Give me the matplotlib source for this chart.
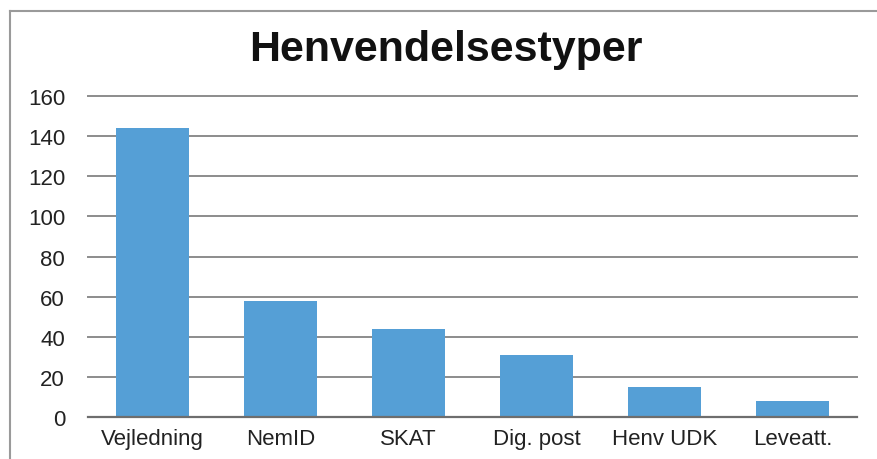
import matplotlib
matplotlib.use("Agg")
from matplotlib import pyplot as plt
from matplotlib.lines import Line2D

categories = ["Vejledning", "NemID", "SKAT", "Dig. post", "Henv UDK", "Leveatt."]
counts = [144, 58, 44, 31, 15, 8]
yticks = [0, 20, 40, 60, 80, 100, 120, 140, 160]

plt.rcParams['font.family'] = ['Liberation Sans', 'DejaVu Sans']

fig = plt.figure(figsize=(8.77, 4.6), dpi=100)
ax = fig.add_axes([88 / 877, 1 - 418 / 460, (857 - 88) / 877, (418 - 97) / 460])

x = range(len(categories))
ax.bar(x, counts, width=0.57, color='#559fd6', zorder=3)

ax.set_xlim(-0.5, len(categories) - 0.5)
ax.set_ylim(0, 160)
ax.set_yticks(yticks)
ax.set_xticks(list(x))
ax.set_xticklabels(categories)
ax.grid(axis='y', color='#8c8c8c', linewidth=1.4, zorder=0)
for gl in ax.get_ygridlines():
    gl.set_clip_on(False)
ax.tick_params(axis='both', length=0, labelsize=16, colors='#222222')
ax.tick_params(axis='y', pad=16.5)
ax.tick_params(axis='x', pad=8)
for side in ['top', 'right', 'left']:
    ax.spines[side].set_visible(False)
ax.spines['bottom'].set_color('#6e6e6e')
ax.spines['bottom'].set_linewidth(1.6)
ax.spines['bottom'].set_zorder(4)

fig.text(446 / 877, 1 - 50 / 460, "Henvendelsestyper", ha='center', va='center',
         fontsize=31, fontweight='bold', color='#111111')

# outer frame (top and left edges visible in the crop)
fig.add_artist(Line2D([9.5 / 877, 1.0], [1 - 12 / 460, 1 - 12 / 460],
                      transform=fig.transFigure, color='#9a9a9a', linewidth=1.5))
fig.add_artist(Line2D([9.5 / 877, 9.5 / 877], [0, 1 - 12 / 460],
                      transform=fig.transFigure, color='#9a9a9a', linewidth=1.5))

fig.savefig("out.png", dpi=100)
